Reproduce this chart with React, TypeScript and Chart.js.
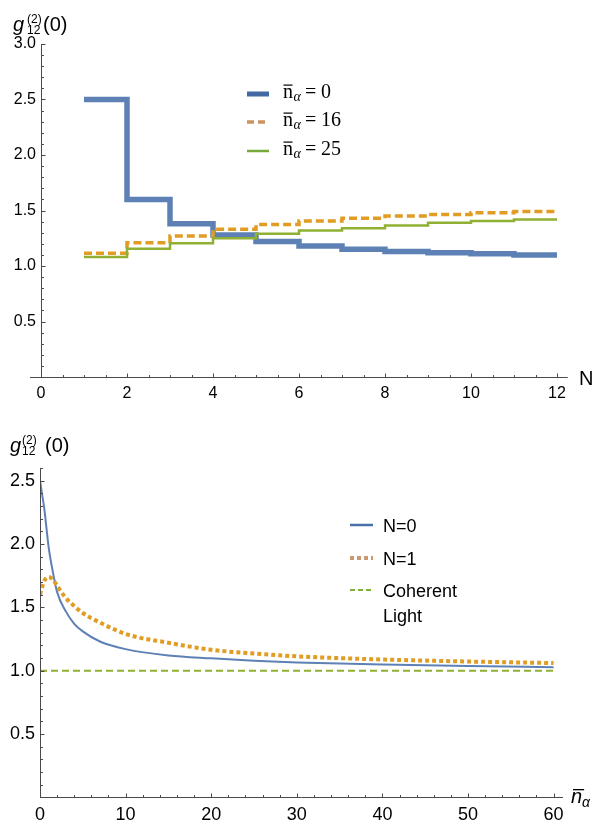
import React, { useEffect, useRef } from "react";
import { Chart, registerables } from "chart.js";
Chart.register(...registerables);

// ---------- Top panel data (step plot vs N) ----------
const stepBounds = [1, 2, 3, 4, 5, 6, 7, 8, 9, 10, 11, 12];
const gNbar0 = [2.5, 1.6, 1.38, 1.28, 1.22, 1.18, 1.15, 1.13, 1.12, 1.11, 1.1];
const gNbar16 = [1.115, 1.21, 1.27, 1.33, 1.375, 1.405, 1.43, 1.45, 1.465, 1.48, 1.49];
const gNbar25 = [1.08, 1.155, 1.205, 1.25, 1.29, 1.32, 1.34, 1.365, 1.39, 1.405, 1.42];
const topLegendValues = ["0", "16", "25"];

// ---------- Bottom panel data (vs n-bar alpha) ----------
const nBar = [0, 0.25, 0.5, 1, 1.5, 2, 3, 4, 5, 7, 10, 15, 20, 25, 30, 40, 50, 60];
const gN0 = [2.5, 2.39, 2.28, 1.98, 1.78, 1.62, 1.47, 1.37, 1.31, 1.23, 1.17, 1.12, 1.097, 1.078, 1.065, 1.048, 1.036, 1.027];
const gN1 = [1.6, 1.66, 1.71, 1.74, 1.72, 1.67, 1.575, 1.51, 1.455, 1.38, 1.29, 1.22, 1.165, 1.135, 1.113, 1.088, 1.072, 1.06];
const coherentX = [0, 60];
const coherentY = [1, 1];
const bottomLegend = ["N=0", "N=1", "Coherent", "Light"];

const BLUE = "#5e81b5";
const ORANGE = "#e19c24";
const GREEN = "#8fb032";
const SANS = '"Liberation Sans", Arial, sans-serif';
const SERIF = '"Liberation Serif", "Times New Roman", serif';

function stepData(vals: number[]) {
  const pts = vals.map((v, i) => ({ x: stepBounds[i], y: v }));
  pts.push({ x: stepBounds[vals.length], y: vals[vals.length - 1] });
  return pts;
}
function xyData(xs: number[], ys: number[]) {
  return xs.map((x, i) => ({ x, y: ys[i] }));
}

// axis lines + inward major/minor ticks drawn from the chart's scales
function axisDeco(cfg: { xMajor: number; xMinor: number; yMajor: number; yMinor: number; major: number; minor: number; overhang: number }) {
  return {
    id: "axisDeco",
    afterDraw(chart: any) {
      const { ctx, chartArea, scales } = chart;
      const xs = scales.x, ys = scales.y;
      const x0 = Math.round(xs.getPixelForValue(0)) + 0.5;
      const y0 = Math.round(ys.getPixelForValue(0)) + 0.5;
      ctx.save();
      ctx.strokeStyle = "#4a4a4a";
      ctx.lineWidth = 1;
      ctx.beginPath();
      ctx.moveTo(chartArea.left - cfg.overhang, y0);
      ctx.lineTo(chartArea.right, y0);
      ctx.moveTo(x0, chartArea.top);
      ctx.lineTo(x0, y0);
      const nx = Math.floor(xs.max / cfg.xMinor + 1e-6);
      for (let i = 0; i <= nx; i++) {
        const v = i * cfg.xMinor;
        const r = v / cfg.xMajor;
        const isMajor = Math.abs(r - Math.round(r)) < 1e-6;
        const px = Math.round(xs.getPixelForValue(v)) + 0.5;
        ctx.moveTo(px, y0);
        ctx.lineTo(px, y0 - (isMajor ? cfg.major : cfg.minor));
      }
      const ny = Math.floor(ys.max / cfg.yMinor + 1e-6);
      for (let i = 0; i <= ny; i++) {
        const v = i * cfg.yMinor;
        const r = v / cfg.yMajor;
        const isMajor = Math.abs(r - Math.round(r)) < 1e-6;
        const py = Math.round(ys.getPixelForValue(v)) + 0.5;
        ctx.moveTo(x0, py);
        ctx.lineTo(x0 + (isMajor ? cfg.major : cfg.minor), py);
      }
      ctx.stroke();
      ctx.restore();
    },
  };
}

function drawG12(ctx: CanvasRenderingContext2D, gx: number, supX: number, parX: number, base: number) {
  ctx.fillStyle = "#000";
  ctx.textBaseline = "alphabetic";
  ctx.textAlign = "left";
  ctx.font = `italic 20px ${SANS}`;
  ctx.fillText("g", gx, base);
  ctx.font = `12px ${SANS}`;
  ctx.fillText("(2)", supX, base - 8);
  ctx.fillText("12", supX, base + 3);
  ctx.font = `20px ${SANS}`;
  ctx.fillText("(0)", parX, base);
}

function sampleLine(ctx: CanvasRenderingContext2D, x1: number, x2: number, y: number, color: string, width: number, dash: number[]) {
  ctx.save();
  ctx.strokeStyle = color;
  ctx.lineWidth = width;
  ctx.lineCap = "butt";
  ctx.setLineDash(dash);
  ctx.beginPath();
  ctx.moveTo(x1, y);
  ctx.lineTo(x2, y);
  ctx.stroke();
  ctx.restore();
}

const topText = {
  id: "topText",
  afterDraw(chart: any) {
    const ctx: CanvasRenderingContext2D = chart.ctx;
    ctx.save();
    drawG12(ctx, 13, 27, 43, 31);
    ctx.font = `20px ${SANS}`;
    ctx.fillStyle = "#000";
    ctx.fillText("N", 579, 385);
    // legend
    const rows = [94, 122, 151];
    const styles = [
      { c: "#4369a3", w: 5, d: [] as number[] },
      { c: "#cc9462", w: 3.5, d: [7, 4] },
      { c: "#77a83a", w: 2.5, d: [] as number[] },
    ];
    rows.forEach((y, i) => {
      sampleLine(ctx, 247, 269, y, styles[i].c, styles[i].w, styles[i].d);
      const base = y + 4;
      const x = 283;
      ctx.fillStyle = "#000";
      ctx.font = `20px ${SERIF}`;
      ctx.fillText("n", x, base);
      const w = ctx.measureText("n").width;
      ctx.fillRect(x + 0.5, base - 13.5, w - 1, 1.2);
      ctx.font = `italic 14px ${SERIF}`;
      ctx.fillText("α", x + w + 0.5, base + 3);
      ctx.font = `20px ${SERIF}`;
      ctx.fillText("=", x + 22, base);
      ctx.fillText(topLegendValues[i], x + 38, base);
    });
    ctx.restore();
  },
};

const bottomText = {
  id: "bottomText",
  afterDraw(chart: any) {
    const ctx: CanvasRenderingContext2D = chart.ctx;
    ctx.save();
    drawG12(ctx, 10, 22, 45, 42);
    // x label n-bar alpha
    ctx.fillStyle = "#000";
    ctx.font = `italic 20px ${SANS}`;
    ctx.fillText("n", 571, 393);
    const w = ctx.measureText("n").width;
    ctx.fillRect(573, 379, w, 1.3);
    ctx.font = `italic 14px ${SANS}`;
    ctx.fillText("α", 582, 397);
    // legend
    const rows = [115, 148, 180];
    const styles = [
      { c: "#4a70aa", w: 2.5, d: [] as number[] },
      { c: "#c99a72", w: 4, d: [4, 3] },
      { c: "#7fb03c", w: 2, d: [5, 3] },
    ];
    rows.forEach((y, i) => sampleLine(ctx, 350, 373, y, styles[i].c, styles[i].w, styles[i].d));
    ctx.font = `18px ${SANS}`;
    ctx.fillStyle = "#000";
    ctx.fillText(bottomLegend[0], 383, 122);
    ctx.fillText(bottomLegend[1], 383, 155);
    ctx.fillText(bottomLegend[2], 383, 187);
    ctx.fillText(bottomLegend[3], 383, 212);
    ctx.restore();
  },
};

const tickFont = (size: number) => ({ family: SANS, size });

function TopChart() {
  const ref = useRef<HTMLCanvasElement>(null);
  useEffect(() => {
    const chart = new Chart(ref.current!, {
      type: "line",
      data: {
        datasets: [
          { label: "n0", data: stepData(gNbar0), borderColor: BLUE, borderWidth: 5.5, stepped: "before", pointRadius: 0, order: 3, borderCapStyle: "butt", borderJoinStyle: "miter", fill: false },
          { label: "n16", data: stepData(gNbar16), borderColor: ORANGE, borderWidth: 3.5, borderDash: [8, 4], stepped: "before", pointRadius: 0, order: 2, borderCapStyle: "butt", fill: false },
          { label: "n25", data: stepData(gNbar25), borderColor: GREEN, borderWidth: 2.5, stepped: "before", pointRadius: 0, order: 1, borderCapStyle: "butt", fill: false },
        ] as any,
      },
      options: {
        responsive: false,
        animation: false,
        events: [],
        layout: { padding: { left: 0, top: 44, right: 597 - 567.75, bottom: 0 } },
        plugins: { legend: { display: false }, tooltip: { enabled: false } },
        scales: {
          x: {
            type: "linear", min: 0, max: 12.25,
            afterFit: (s: any) => { s.height = 33; },
            grid: { display: false, drawTicks: false }, border: { display: false },
            ticks: { stepSize: 2, includeBounds: false, padding: 7, color: "#000", font: tickFont(16), maxRotation: 0, autoSkip: false },
          },
          y: {
            type: "linear", min: 0, max: 3,
            afterFit: (s: any) => { s.width = 41; },
            grid: { display: false, drawTicks: false }, border: { display: false },
            ticks: { stepSize: 0.5, padding: 5, color: "#000", font: tickFont(16), callback: (v: any) => (v === 0 ? "" : Number(v).toFixed(1)) },
          },
        },
      } as any,
      plugins: [axisDeco({ xMajor: 2, xMinor: 0.5, yMajor: 0.5, yMinor: 0.1, major: 4, minor: 2.5, overhang: 11 }), topText],
    });
    return () => chart.destroy();
  }, []);
  return <canvas ref={ref} width={597} height={410} style={{ position: "absolute", left: 0, top: 0, display: "block" }} />;
}

function BottomChart() {
  const ref = useRef<HTMLCanvasElement>(null);
  useEffect(() => {
    const chart = new Chart(ref.current!, {
      type: "line",
      data: {
        datasets: [
          { label: "N=0", data: xyData(nBar, gN0), borderColor: BLUE, borderWidth: 2, pointRadius: 0, order: 3, cubicInterpolationMode: "monotone", fill: false },
          { label: "N=1", data: xyData(nBar, gN1), borderColor: ORANGE, borderWidth: 4, borderDash: [4, 3], pointRadius: 0, order: 2, cubicInterpolationMode: "monotone", borderCapStyle: "butt", fill: false },
          { label: "Coherent Light", data: xyData(coherentX, coherentY), borderColor: GREEN, borderWidth: 2, borderDash: [7, 4], pointRadius: 0, order: 1, fill: false },
        ] as any,
      },
      options: {
        responsive: false,
        animation: false,
        events: [],
        layout: { padding: { left: 0, top: 58, right: 597 - 563, bottom: 0 } },
        plugins: { legend: { display: false }, tooltip: { enabled: false } },
        scales: {
          x: {
            type: "linear", min: 0, max: 61.1,
            afterFit: (s: any) => { s.height = 27.7; },
            grid: { display: false, drawTicks: false }, border: { display: false },
            ticks: { stepSize: 10, includeBounds: false, padding: 7, color: "#000", font: tickFont(18), maxRotation: 0, autoSkip: false },
          },
          y: {
            type: "linear", min: 0, max: 2.6,
            afterFit: (s: any) => { s.width = 40; },
            grid: { display: false, drawTicks: false }, border: { display: false },
            ticks: { stepSize: 0.5, includeBounds: false, padding: 5, color: "#000", font: tickFont(18), callback: (v: any) => (v === 0 ? "" : Number(v).toFixed(1)) },
          },
        },
      } as any,
      plugins: [axisDeco({ xMajor: 10, xMinor: 2, yMajor: 0.5, yMinor: 0.1, major: 4, minor: 2.5, overhang: 0 }), bottomText],
    });
    return () => chart.destroy();
  }, []);
  return <canvas ref={ref} width={597} height={415} style={{ position: "absolute", left: 0, top: 410, display: "block" }} />;
}

export default function App() {
  return (
    <div style={{ position: "absolute", left: 0, top: 0, width: 597, height: 825, background: "#fff" }}>
      <TopChart />
      <BottomChart />
    </div>
  );
}
